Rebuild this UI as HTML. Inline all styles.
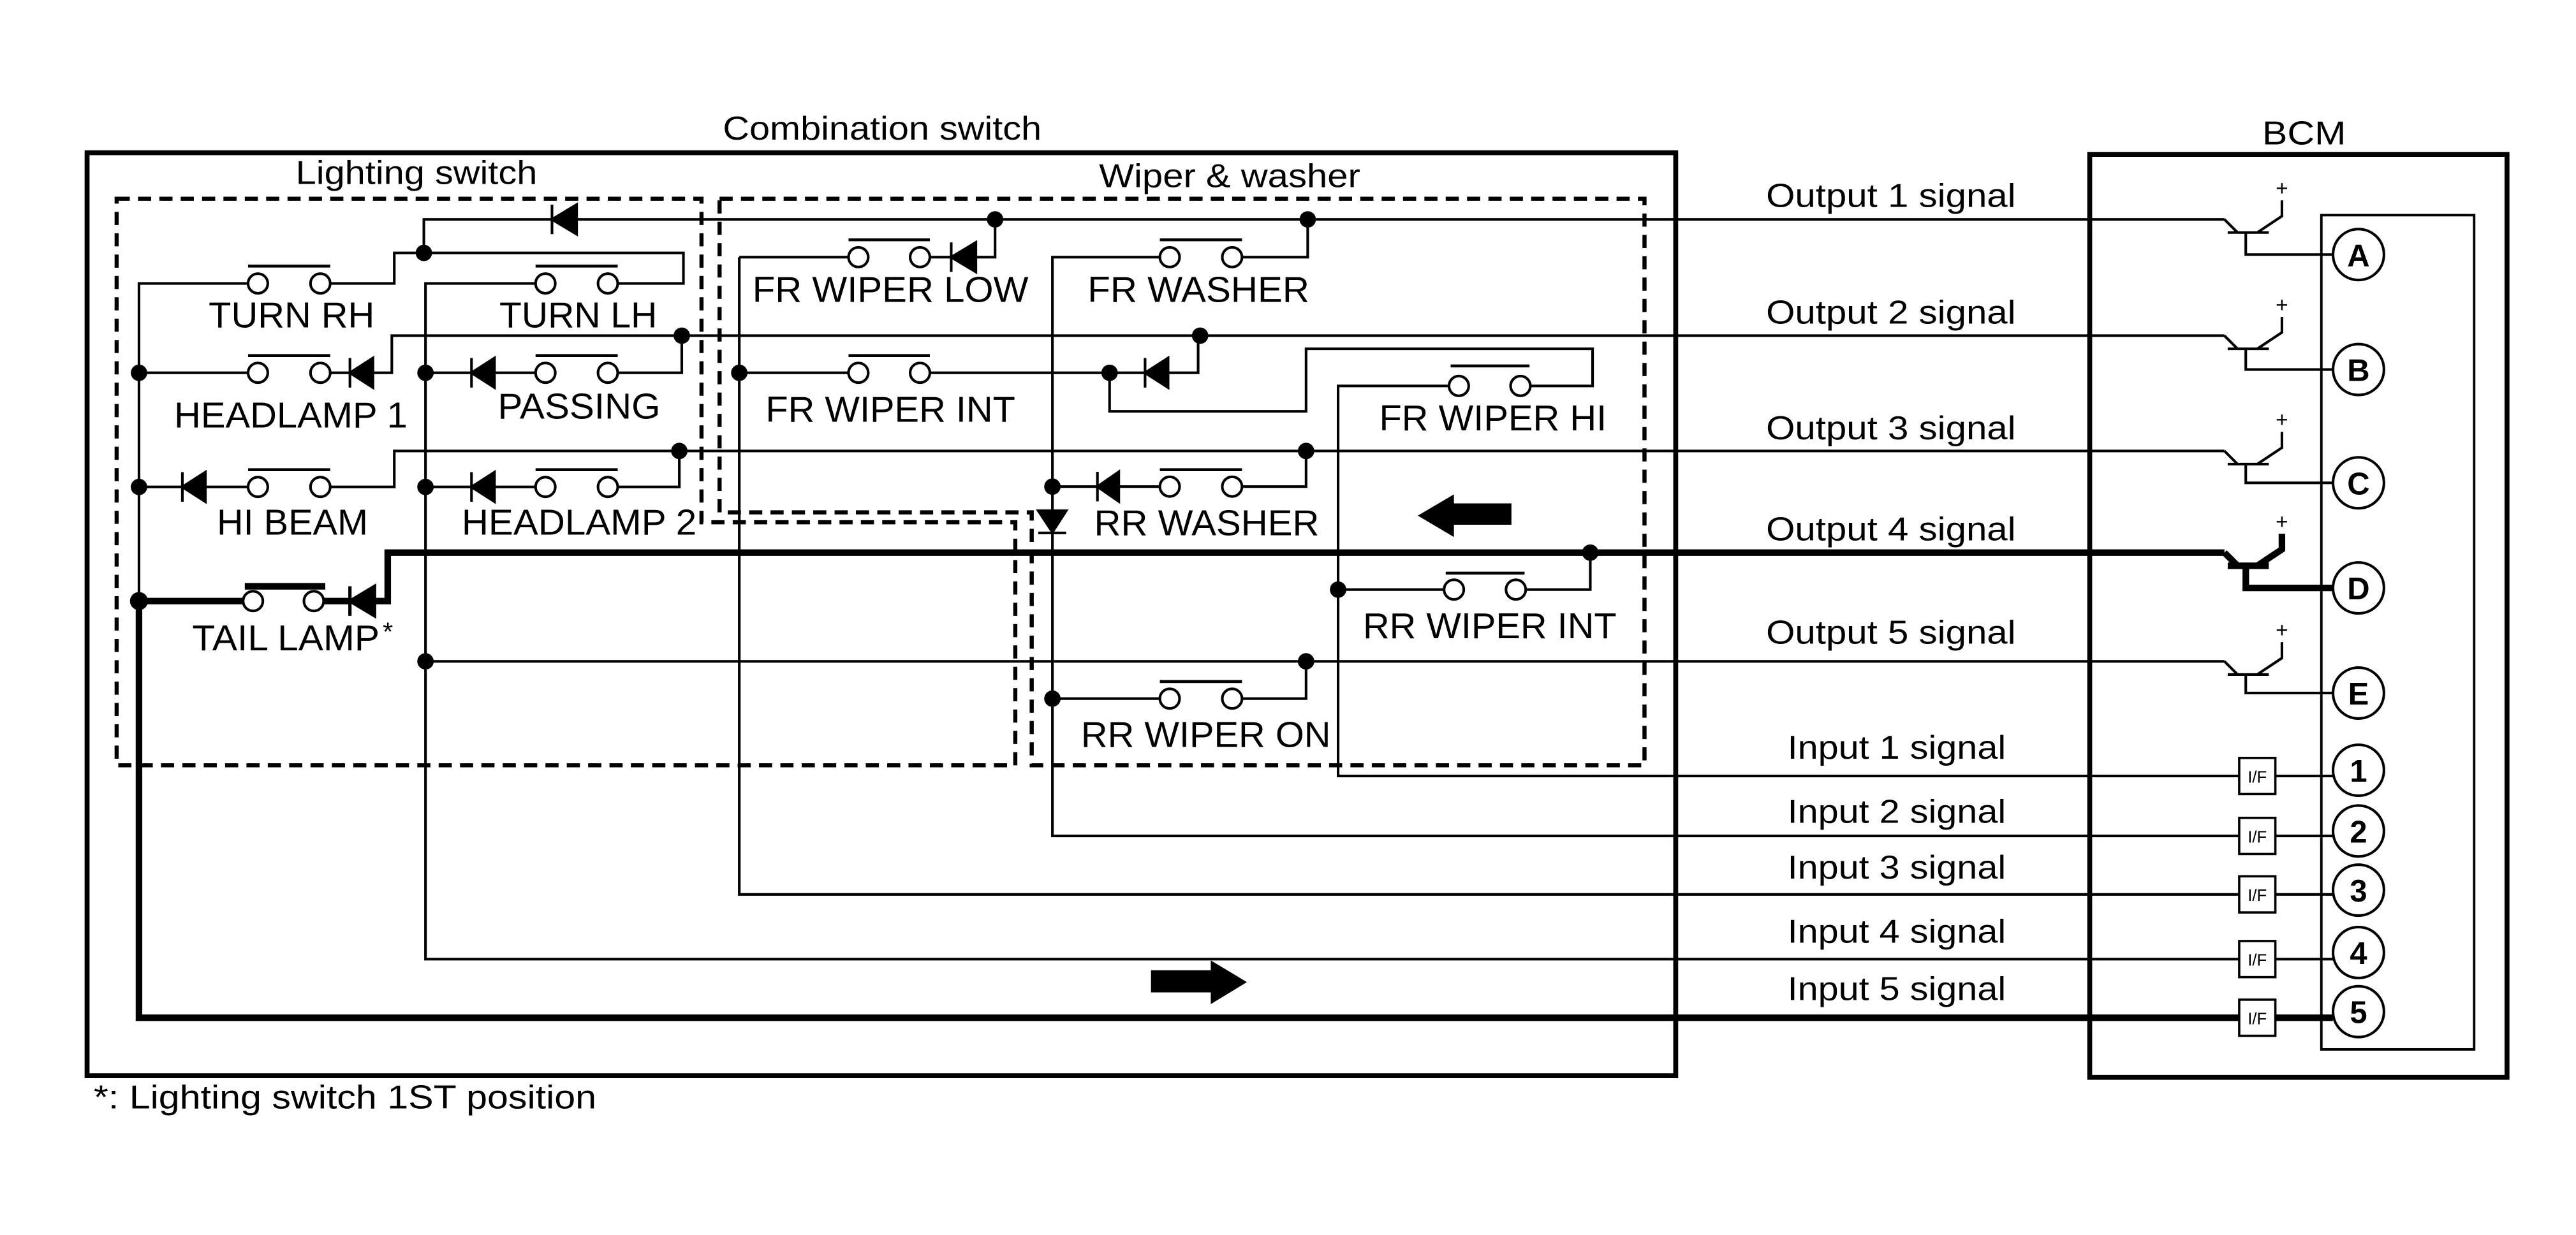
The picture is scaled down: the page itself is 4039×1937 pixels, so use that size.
<!DOCTYPE html>
<html><head><meta charset="utf-8"><style>
html,body{margin:0;padding:0;background:#fff;}
svg{display:block;}
text{font-family:"Liberation Sans",Arial,sans-serif;fill:#000;}
</style></head><body>
<svg width="4039" height="1937" viewBox="0 0 1568 752" preserveAspectRatio="none" xmlns="http://www.w3.org/2000/svg">
<rect width="1568" height="752" fill="#fff"/>
<!-- boxes -->
<rect x="53" y="93" width="967" height="562" fill="none" stroke="#000" stroke-width="3"/>
<rect x="1272" y="94" width="254" height="562" fill="none" stroke="#000" stroke-width="3"/>
<rect x="1413" y="131" width="93" height="508" fill="none" stroke="#000" stroke-width="1.5"/>
<g fill="none" stroke="#000" stroke-width="2.5" stroke-dasharray="8,5">
<path d="M71,121 H427 V318 H618 V466 H71 Z"/>
<path d="M438,121 H1001 V466 H628 V312 H438 Z"/>
</g>
<!-- titles -->
<text x="440" y="85" font-size="20" textLength="194" lengthAdjust="spacingAndGlyphs">Combination switch</text>
<text x="1377" y="88" font-size="20" textLength="51" lengthAdjust="spacingAndGlyphs">BCM</text>
<text x="180" y="112" font-size="20" textLength="147" lengthAdjust="spacingAndGlyphs">Lighting switch</text>
<text x="669" y="114" font-size="20" textLength="159" lengthAdjust="spacingAndGlyphs">Wiper &amp; washer</text>
<text x="57" y="675" font-size="20" textLength="306" lengthAdjust="spacingAndGlyphs">*: Lighting switch 1ST position</text>

<!-- thin wires -->
<g fill="none" stroke="#000" stroke-width="1.6">
<path d="M258,154 V133.6 H1354"/>
<path d="M258,154 H416 V172.6 H376"/>
<path d="M326,172.6 H259 V584 H1363"/>
<path d="M151,172.6 H84.6 V366"/>
<path d="M201,172.6 H240 V154 H258"/>
<path d="M84.6,227 H151 M201,227 H213 M227,227 H238.5 V204.4 H1354"/>
<path d="M259,227 H287 M301,227 H326 M376,227 H415 V204.4"/>
<path d="M84.6,296.5 H111 M125,296.5 H151 M201,296.5 H240 V274.6 H1354"/>
<path d="M259,296.5 H287 M301,296.5 H326 M376,296.5 H413.5 V274.6"/>
<path d="M259,402.7 H1354"/>
<path d="M450,156.6 V544.6 H1363"/>
<path d="M450,156.6 H516.5 M566,156.6 H579 M594,156.6 H605.7 V133.6"/>
<path d="M706,156.6 H640.6 V509 H1363"/>
<path d="M756,156.6 H796 V133.6"/>
<path d="M450,227 H516.5 M566,227 H697 M711,227 H729.3 V204.4"/>
<path d="M675.4,227 V250.5 H795 V212.4 H969.4 V235 H931.5"/>
<path d="M882,235 H814.5 V472.5 H1363"/>
<path d="M640.6,296.3 H668 M681,296.3 H706 M756,296.3 H795 V274.6"/>
<path d="M814.5,359 H879 M928.7,359 H968 V336.5"/>
<path d="M640.6,425.4 H706 M756,425.4 H795 V402.7"/>
<!-- I/F to circles -->
<path d="M1385,472.5 H1420 M1385,509 H1420 M1385,544.6 H1420 M1385,584 H1420"/>
</g>
<!-- thick wires -->
<g fill="none" stroke="#000" stroke-width="4">
<path d="M84.6,366 H148 M197,366 H213"/>
<path d="M228,366 H236 V336.5 H1354"/>
<path d="M84.6,366 V619.7 H1363"/>
<path d="M1385,619.7 H1420"/>
<path d="M149,357 H198"/>
</g>

<!-- switches: bars -->
<g stroke="#000" stroke-width="1.8">
<path d="M151,162 H201 M326,162 H376 M151,216.5 H201 M326,216.5 H376 M151,286 H201 M326,286 H376"/>
<path d="M516.5,146 H566 M706,146 H756 M516.5,216.5 H566 M883,222.8 H931 M706,286 H756 M880,349 H928 M706,415 H756"/>
</g>
<!-- contacts -->
<g fill="#fff" stroke="#000" stroke-width="1.6">
<circle cx="157" cy="172.6" r="6"/><circle cx="195" cy="172.6" r="6"/>
<circle cx="332" cy="172.6" r="6"/><circle cx="370" cy="172.6" r="6"/>
<circle cx="157" cy="227" r="6"/><circle cx="195" cy="227" r="6"/>
<circle cx="332" cy="227" r="6"/><circle cx="370" cy="227" r="6"/>
<circle cx="157" cy="296.5" r="6"/><circle cx="195" cy="296.5" r="6"/>
<circle cx="332" cy="296.5" r="6"/><circle cx="370" cy="296.5" r="6"/>
<circle cx="154" cy="366" r="6"/><circle cx="191" cy="366" r="6"/>
<circle cx="522.5" cy="156.6" r="6"/><circle cx="560" cy="156.6" r="6"/>
<circle cx="712" cy="156.6" r="6"/><circle cx="750" cy="156.6" r="6"/>
<circle cx="522.5" cy="227" r="6"/><circle cx="560" cy="227" r="6"/>
<circle cx="888" cy="235" r="6"/><circle cx="925.5" cy="235" r="6"/>
<circle cx="712" cy="296.3" r="6"/><circle cx="750" cy="296.3" r="6"/>
<circle cx="885" cy="359" r="6"/><circle cx="922.7" cy="359" r="6"/>
<circle cx="712" cy="425.4" r="6"/><circle cx="750" cy="425.4" r="6"/>
</g>
<!-- diodes (left pointing): bar at x, triangle to x+14 -->
<g fill="#000" stroke="#000" stroke-width="1.6">
<path d="M336,133.6 L351,124.6 L351,142.6 Z M336,124.6 V142.6"/>
<path d="M213,227 L227,218 L227,236 Z M213,218 V236"/>
<path d="M287,227 L301,218 L301,236 Z M287,218 V236"/>
<path d="M111,296.5 L125,287.5 L125,305.5 Z M111,287.5 V305.5"/>
<path d="M287,296.5 L301,287.5 L301,305.5 Z M287,287.5 V305.5"/>
<path d="M213,366 L228,357 L228,375 Z M213,357 V375" stroke-width="2"/>
<path d="M579,156.6 L594,147.6 L594,165.6 Z M579,147.6 V165.6"/>
<path d="M697,227 L711,218 L711,236 Z M697,218 V236"/>
<path d="M668,296.3 L681,287.3 L681,305.3 Z M668,287.3 V305.3"/>
<path d="M640.6,324 L632,311 L649,311 Z M632,324.5 H649"/>
</g>
<!-- dots -->
<g fill="#000">
<circle cx="258" cy="154" r="5"/><circle cx="84.6" cy="227" r="5"/><circle cx="84.6" cy="296.5" r="5"/><circle cx="84.6" cy="366" r="5.5"/>
<circle cx="259" cy="227" r="5"/><circle cx="259" cy="296.5" r="5"/><circle cx="259" cy="402.7" r="5"/>
<circle cx="415" cy="204.4" r="5"/><circle cx="413.5" cy="274.6" r="5"/>
<circle cx="605.7" cy="133.6" r="5"/><circle cx="796" cy="133.6" r="5"/>
<circle cx="450" cy="227" r="5"/><circle cx="675.4" cy="227" r="5"/><circle cx="730.5" cy="204.4" r="5"/>
<circle cx="795" cy="274.6" r="5"/><circle cx="640.6" cy="296.3" r="5"/><circle cx="640.6" cy="425.4" r="5"/>
<circle cx="795" cy="402.7" r="5"/><circle cx="814.5" cy="359" r="5"/><circle cx="968" cy="336.5" r="5"/>
</g>
<!-- arrows -->
<path d="M863,314 L885,301 L885,306.5 L920,306.5 L920,319.5 L885,319.5 L885,327 Z" fill="#000"/>
<path d="M759,598 L737,584.8 L737,590.8 L700.6,590.8 L700.6,604.3 L737,604.3 L737,611.4 Z" fill="#000"/>

<!-- switch labels -->
<g font-size="22">
<text x="127" y="199.3" textLength="101" lengthAdjust="spacingAndGlyphs">TURN RH</text>
<text x="304" y="199.3" textLength="96" lengthAdjust="spacingAndGlyphs">TURN LH</text>
<text x="106" y="260.3" textLength="142" lengthAdjust="spacingAndGlyphs">HEADLAMP 1</text>
<text x="303" y="254.8" textLength="99" lengthAdjust="spacingAndGlyphs">PASSING</text>
<text x="132" y="325.6" textLength="92" lengthAdjust="spacingAndGlyphs">HI BEAM</text>
<text x="281" y="325.6" textLength="143" lengthAdjust="spacingAndGlyphs">HEADLAMP 2</text>
<text x="117" y="396" textLength="114" lengthAdjust="spacingAndGlyphs">TAIL LAMP</text>
<text x="233" y="390" font-size="16">*</text>
<text x="458" y="183.8" textLength="168" lengthAdjust="spacingAndGlyphs">FR WIPER LOW</text>
<text x="662" y="183.8" textLength="135" lengthAdjust="spacingAndGlyphs">FR WASHER</text>
<text x="466" y="256.8" textLength="152" lengthAdjust="spacingAndGlyphs">FR WIPER INT</text>
<text x="839.5" y="262" textLength="138.5" lengthAdjust="spacingAndGlyphs">FR WIPER HI</text>
<text x="666" y="326" textLength="137" lengthAdjust="spacingAndGlyphs">RR WASHER</text>
<text x="829.6" y="388.6" textLength="154.4" lengthAdjust="spacingAndGlyphs">RR WIPER INT</text>
<text x="658" y="454.8" textLength="152" lengthAdjust="spacingAndGlyphs">RR WIPER ON</text>
</g>
<!-- signal labels -->
<g font-size="20">
<text x="1075" y="126" textLength="152" lengthAdjust="spacingAndGlyphs">Output 1 signal</text>
<text x="1075" y="197" textLength="152" lengthAdjust="spacingAndGlyphs">Output 2 signal</text>
<text x="1075" y="267.5" textLength="152" lengthAdjust="spacingAndGlyphs">Output 3 signal</text>
<text x="1075" y="329" textLength="152" lengthAdjust="spacingAndGlyphs">Output 4 signal</text>
<text x="1075" y="392" textLength="152" lengthAdjust="spacingAndGlyphs">Output 5 signal</text>
<text x="1088" y="462" textLength="133" lengthAdjust="spacingAndGlyphs">Input 1 signal</text>
<text x="1088" y="501" textLength="133" lengthAdjust="spacingAndGlyphs">Input 2 signal</text>
<text x="1088" y="535" textLength="133" lengthAdjust="spacingAndGlyphs">Input 3 signal</text>
<text x="1088" y="574" textLength="133" lengthAdjust="spacingAndGlyphs">Input 4 signal</text>
<text x="1088" y="609" textLength="133" lengthAdjust="spacingAndGlyphs">Input 5 signal</text>
</g>

<!-- transistors -->
<g fill="none" stroke="#000" stroke-width="1.6">
<path d="M1354,133.6 L1362,141.6 M1356,141.6 H1381 M1367,141.6 V155 H1420 M1374,141.6 L1389,131.6 V122"/>
<path d="M1354,204.4 L1362,212.4 M1356,212.4 H1381 M1367,212.4 V225 H1420 M1374,212.4 L1389,202.4 V193"/>
<path d="M1354,274.6 L1362,282.6 M1356,282.6 H1381 M1367,282.6 V294 H1420 M1374,282.6 L1389,272.6 V263"/>
<path d="M1354,402.7 L1362,410.7 M1356,410.7 H1381 M1367,410.7 V422 H1420 M1374,410.7 L1389,400.7 V391"/>
</g>
<path d="M1354,336.5 L1362,344.5 M1356,344.5 H1381 M1367,344.5 V358 H1420 M1374,344.5 L1389,334.5 V325" fill="none" stroke="#000" stroke-width="4"/>
<g font-size="13" text-anchor="middle">
<text x="1389" y="119">+</text><text x="1389" y="190">+</text><text x="1389" y="260">+</text><text x="1389" y="322">+</text><text x="1389" y="388">+</text>
</g>
<!-- I/F boxes -->
<g fill="#fff" stroke="#000" stroke-width="1.4">
<rect x="1363" y="461.5" width="22" height="22"/>
<rect x="1363" y="498" width="22" height="22"/>
<rect x="1363" y="533.6" width="22" height="22"/>
<rect x="1363" y="573" width="22" height="22"/>
<rect x="1363" y="608.7" width="22" height="22"/>
</g>
<g font-size="10" text-anchor="middle">
<text x="1374" y="476.5">I/F</text><text x="1374" y="513">I/F</text><text x="1374" y="548.6">I/F</text><text x="1374" y="588">I/F</text><text x="1374" y="623.7">I/F</text>
</g>
<!-- connector circles -->
<g fill="#fff" stroke="#000" stroke-width="1.6">
<circle cx="1435.6" cy="155" r="15.5"/><circle cx="1435.6" cy="225" r="15.5"/><circle cx="1435.6" cy="294" r="15.5"/>
<circle cx="1435.6" cy="358" r="15.5"/><circle cx="1435.6" cy="422" r="15.5"/>
<circle cx="1435.6" cy="469" r="15.5"/><circle cx="1435.6" cy="506" r="15.5"/><circle cx="1435.6" cy="542" r="15.5"/>
<circle cx="1435.6" cy="580" r="15.5"/><circle cx="1435.6" cy="616" r="15.5"/>
</g>
<g font-size="19" font-weight="bold" text-anchor="middle">
<text x="1435.6" y="162">A</text><text x="1435.6" y="232">B</text><text x="1435.6" y="301">C</text>
<text x="1435.6" y="365">D</text><text x="1435.6" y="429">E</text>
<text x="1435.6" y="476">1</text><text x="1435.6" y="513">2</text><text x="1435.6" y="549">3</text>
<text x="1435.6" y="587">4</text><text x="1435.6" y="623">5</text>
</g>
</svg>
</body></html>
